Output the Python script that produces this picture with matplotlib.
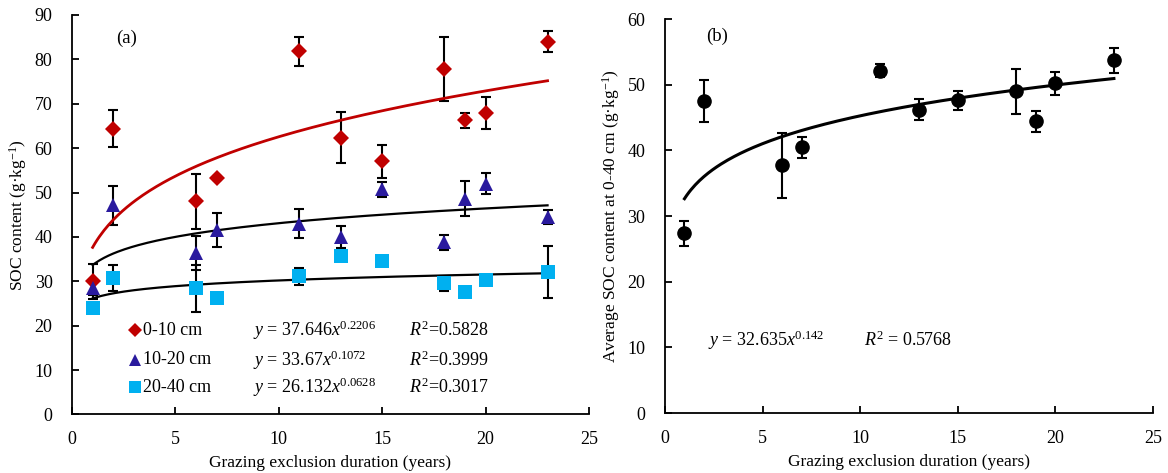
import numpy as np
import matplotlib
matplotlib.use("Agg")
import matplotlib.pyplot as plt

plt.rcParams['font.family'] = ['Liberation Serif', 'DejaVu Serif']
plt.rcParams['mathtext.fontset'] = 'custom'
plt.rcParams['mathtext.rm'] = 'Liberation Serif'
plt.rcParams['mathtext.it'] = 'Liberation Serif:italic'
plt.rcParams['mathtext.bf'] = 'Liberation Serif:bold'

# ---- data ----
years = [1, 2, 6, 7, 11, 13, 15, 18, 19, 20, 23]
soc_0_10 = [30.0, 64.4, 48.0, 53.3, 81.8, 62.4, 57.0, 77.8, 66.3, 68.0, 84.0]
err_0_10 = [4.0, 4.1, 6.2, 0.5, 3.2, 5.7, 3.7, 7.2, 1.7, 3.6, 2.4]
soc_10_20 = [28.4, 47.1, 36.4, 41.6, 43.0, 40.0, 50.7, 38.8, 48.6, 52.0, 44.5]
err_10_20 = [1.5, 4.4, 3.9, 3.9, 3.3, 2.5, 1.6, 1.7, 3.9, 2.3, 1.6]
soc_20_40 = [24.1, 30.7, 28.4, 26.3, 31.1, 35.8, 34.6, 29.6, 27.6, 30.2, 32.1]
err_20_40 = [0.8, 2.9, 5.3, 0.8, 2.0, 0.8, 0.8, 1.7, 1.0, 0.8, 5.8]
soc_avg = [27.4, 47.5, 37.7, 40.5, 52.1, 46.2, 47.6, 49.0, 44.4, 50.2, 53.7]
err_avg = [1.9, 3.2, 5.0, 1.6, 1.0, 1.6, 1.5, 3.4, 1.6, 1.8, 1.9]

# power-law trendline coefficients (y = a * x^b)
fit_0_10 = (37.646, 0.2206)
fit_10_20 = (33.67, 0.1072)
fit_20_40 = (26.132, 0.0628)
fit_avg = (32.635, 0.142)

layer_labels = ['0-10 cm', '10-20 cm', '20-40 cm']
eq_texts = [r'$\mathit{y}$ = 37.646$\mathit{x}^{0.2206}$',
            r'$\mathit{y}$ = 33.67$\mathit{x}^{0.1072}$',
            r'$\mathit{y}$ = 26.132$\mathit{x}^{0.0628}$']
r2_texts = [r'$\mathit{R}^{2}$=0.5828', r'$\mathit{R}^{2}$=0.3999', r'$\mathit{R}^{2}$=0.3017']

RED = '#C00000'
BLUE = '#2A1A9E'
CYAN = '#00B0F0'

fig = plt.figure(figsize=(11.68, 4.73), dpi=100)
axa = fig.add_axes([0.0616, 0.1237, 0.4426, 0.8446])
axb = fig.add_axes([0.5693, 0.1268, 0.4178, 0.833])

def style(ax, ymax, ystep):
    ax.set_xlim(0, 25)
    ax.set_ylim(0, ymax)
    ax.set_xticks(np.arange(0, 26, 5))
    ax.set_yticks(np.arange(0, ymax + 1, ystep))
    for s in ['top', 'right']:
        ax.spines[s].set_visible(False)
    for s in ['left', 'bottom']:
        ax.spines[s].set_linewidth(1.3)
    ax.tick_params(direction='in', length=5, width=1.3, labelsize=13)
    ax.tick_params(axis='x', pad=12)
    ax.tick_params(axis='y', pad=14)
    ax.set_xlabel('Grazing exclusion duration (years)', fontsize=12.5, labelpad=5)

xs = np.linspace(1, 23, 200)
ebkw = dict(fmt='none', ecolor='black', elinewidth=1.5, capsize=3.5, capthick=1.5, zorder=2)

# ---- panel a ----
series = [(soc_0_10, err_0_10, 'D', RED, 8.5, 7, fit_0_10, RED),
          (soc_10_20, err_10_20, '^', BLUE, 10, 8.5, fit_10_20, 'black'),
          (soc_20_40, err_20_40, 's', CYAN, 10, 8.5, fit_20_40, 'black')]
for vals, errs, mk, col, ms, lms, fit, lcol in series:
    axa.errorbar(years, vals, yerr=errs, **ebkw)
for vals, errs, mk, col, ms, lms, fit, lcol in series:
    axa.plot(xs, fit[0] * xs ** fit[1], color=lcol, lw=2.0 if lcol == RED else 1.6, zorder=3)
for vals, errs, mk, col, ms, lms, fit, lcol in series:
    axa.plot(years, vals, linestyle='none', marker=mk, color=col, markersize=ms,
             markeredgewidth=0, zorder=4)

style(axa, 90, 10)
axa.set_ylabel('SOC content (g·kg$^{-1}$)', fontsize=12.5, labelpad=4)
axa.text(2.65, 84.8, '(a)', fontsize=13.5, ha='center', va='center')

leg_y = [19.0, 12.3, 6.1]
for (vals, errs, mk, col, ms, lms, fit, lcol), ly, lab, eq, r2 in zip(series, leg_y, layer_labels, eq_texts, r2_texts):
    axa.plot([3.05], [ly], linestyle='none', marker=mk, color=col, markersize=lms, markeredgewidth=0)
    axa.text(3.45, ly, lab, fontsize=13, va='center', ha='left')
    axa.text(8.75, ly, eq, fontsize=13, va='center', ha='left')
    axa.text(16.3, ly, r2, fontsize=13, va='center', ha='left')

# ---- panel b ----
axb.errorbar(years, soc_avg, yerr=err_avg, **ebkw)
axb.plot(xs, fit_avg[0] * xs ** fit_avg[1], color='black', lw=2.2, zorder=3)
axb.plot(years, soc_avg, linestyle='none', marker='o', color='black', markersize=9.5, zorder=4)
style(axb, 60, 10)
axb.set_ylabel('Average SOC content at 0-40 cm (g·kg$^{-1}$)', fontsize=12.5, labelpad=4)
axb.text(2.65, 57.4, '(b)', fontsize=13.5, ha='center', va='center')
axb.text(2.2, 11.1, r'$\mathit{y}$ = 32.635$\mathit{x}^{0.142}$', fontsize=13, va='center', ha='left')
axb.text(10.2, 11.1, r'$\mathit{R}^{2}$ = 0.5768', fontsize=13, va='center', ha='left')

fig.savefig('out.png', dpi=100)
